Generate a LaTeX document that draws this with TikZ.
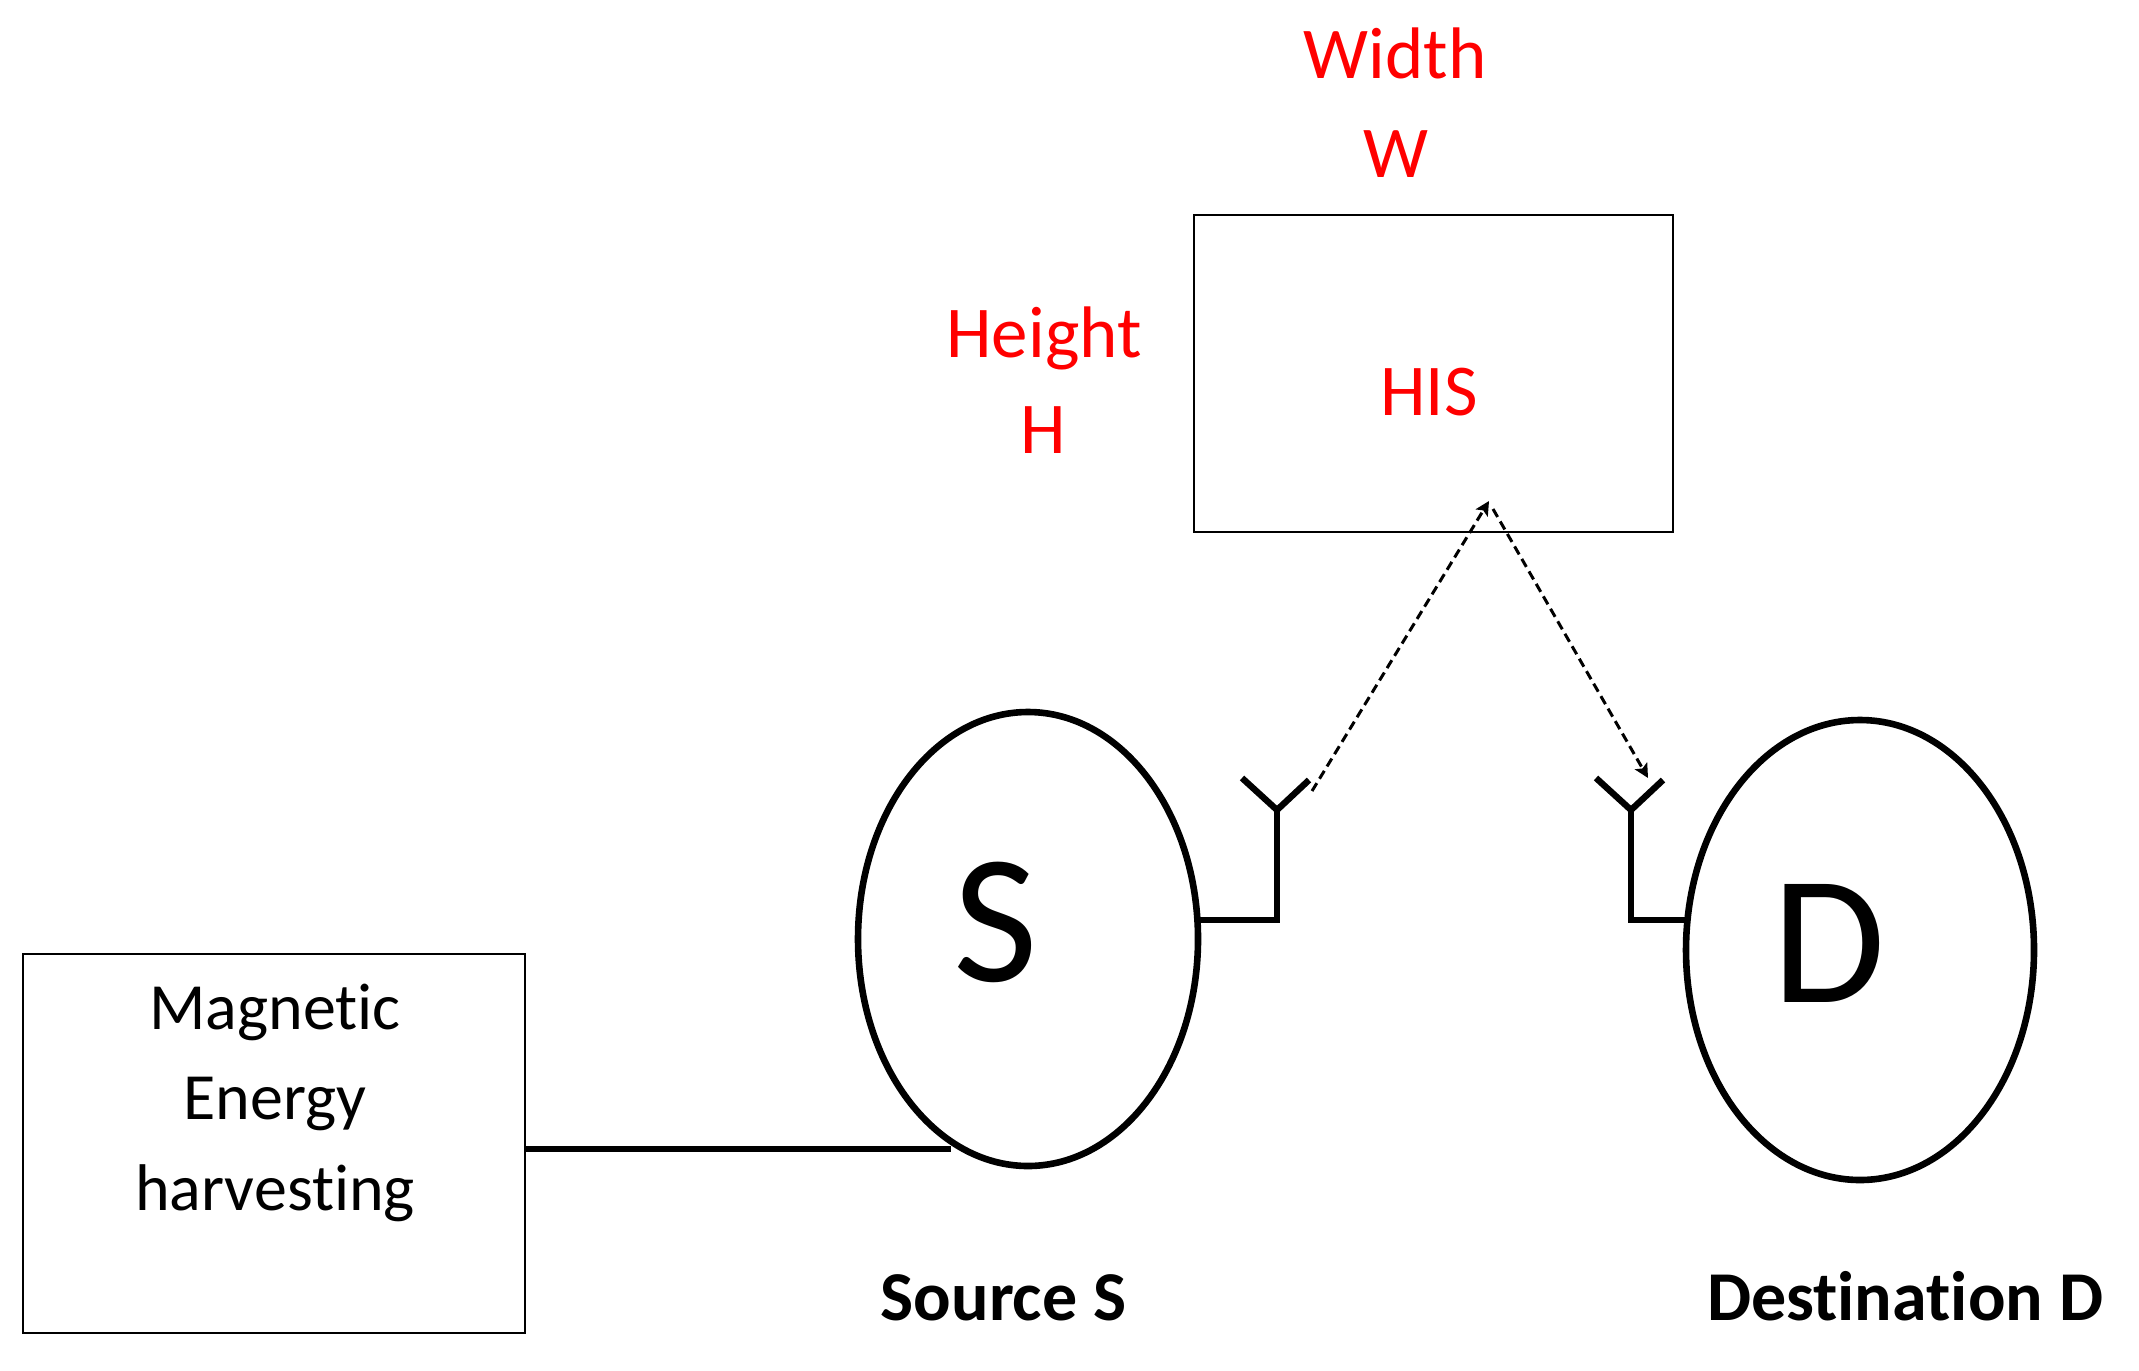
\documentclass[tikz,border=0pt]{standalone}
\usepackage{fontspec}
\setmainfont{Carlito}[Ligatures={TeX,NoCommon}]
\usetikzlibrary{shapes.geometric,arrows.meta,calc}
\definecolor{hisred}{RGB}{255,0,0}
\begin{document}
\begin{tikzpicture}[x=0.5pt,y=-0.5pt,
  thinbox/.style={draw=black,line width=0.75pt,rectangle,inner sep=0pt},
  nodeell/.style={draw=black,line width=3.3pt,ellipse,inner sep=0pt},
  thickline/.style={draw=black,line width=3.4pt},
  antline/.style={draw=black,line width=3.2pt,line join=miter},
  redtxt/.style={text=hisred,font=\fontsize{36.5}{44}\selectfont,inner sep=0pt,anchor=base},
  magtxt/.style={font=\fontsize{33}{40}\selectfont,inner sep=0pt,anchor=base},
  bigletter/.style={font=\fontsize{92}{110}\selectfont,inner sep=0pt},
  captxt/.style={font=\fontsize{35}{42}\selectfont\bfseries,inner sep=0pt,anchor=base},
  dasharrow/.style={draw=black,line width=1.5pt,dash pattern=on 4.6pt off 2.6pt,
    -{Stealth[length=7pt,width=7pt,inset=1.5pt]}}
]
\useasboundingbox (0,0) rectangle (2139,1370);
\fill[white] (0,0) rectangle (2139,1370);

% HIS box and labels
\node[thinbox,minimum width=239.5pt,minimum height=158.5pt] (his) at (1433.5,373.5) {};
\node[redtxt] (histxt) at (1429,415) {HIS};
\node[redtxt] (width) at (1395,78.5) {Width};
\node[redtxt] (wlet) at (1396,177) {W};
\node[redtxt] (height) at (1044,357) {Height};
\node[redtxt] (hlet) at (1043,453.5) {H};

% Magnetic energy harvesting box
\node[thinbox,minimum width=251pt,minimum height=189.5pt] (mag) at (274,1143.5) {};
\node[magtxt] (mag1) at (275,1029) {Magnetic};
\node[magtxt] (mag2) at (275,1119) {Energy};
\node[magtxt] (mag3) at (275,1210) {harvesting};

% Source and destination
\node[nodeell,minimum width=170pt,minimum height=227pt] (S) at (1028,939) {};
\node[bigletter] (Slet) at (996,922) {S};
\node[nodeell,minimum width=174pt,minimum height=230pt] (D) at (1860,950) {};
\node[bigletter] (Dlet) at (1829,943) {D};
\node[captxt] (srclab) at (1003.5,1320) {Source S};
\node[captxt] (dstlab) at (1905,1320) {Destination D};

% connection from harvester to source
\coordinate (magout) at (525,1149);
\coordinate (sin) at (951,1149);
\draw[thickline] (magout) -- (sin);

% antennas
\coordinate (sedge) at (1197,920);
\coordinate (scorner) at (1277,920);
\coordinate (sjunc) at (1277,810);
\coordinate (sarmL) at (1242,778);
\coordinate (sarmR) at (1309,780);
\draw[antline] (sedge) -- (scorner) -- (sjunc);
\draw[antline] (sarmL) -- (sjunc) -- (sarmR);

\coordinate (dedge) at (1688,920);
\coordinate (dcorner) at (1631,920);
\coordinate (djunc) at (1631,810);
\coordinate (darmL) at (1596,778);
\coordinate (darmR) at (1663,780);
\draw[antline] (dedge) -- (dcorner) -- (djunc);
\draw[antline] (darmL) -- (djunc) -- (darmR);

% wireless links through the HIS
\coordinate (sout) at (1312,791);
\coordinate (histip) at (1489,501);
\coordinate (hisout) at (1493,509);
\coordinate (din) at (1648,778);
\draw[dasharrow] (sout) -- (histip);
\draw[dasharrow] (hisout) -- (din);
\end{tikzpicture}
\end{document}
